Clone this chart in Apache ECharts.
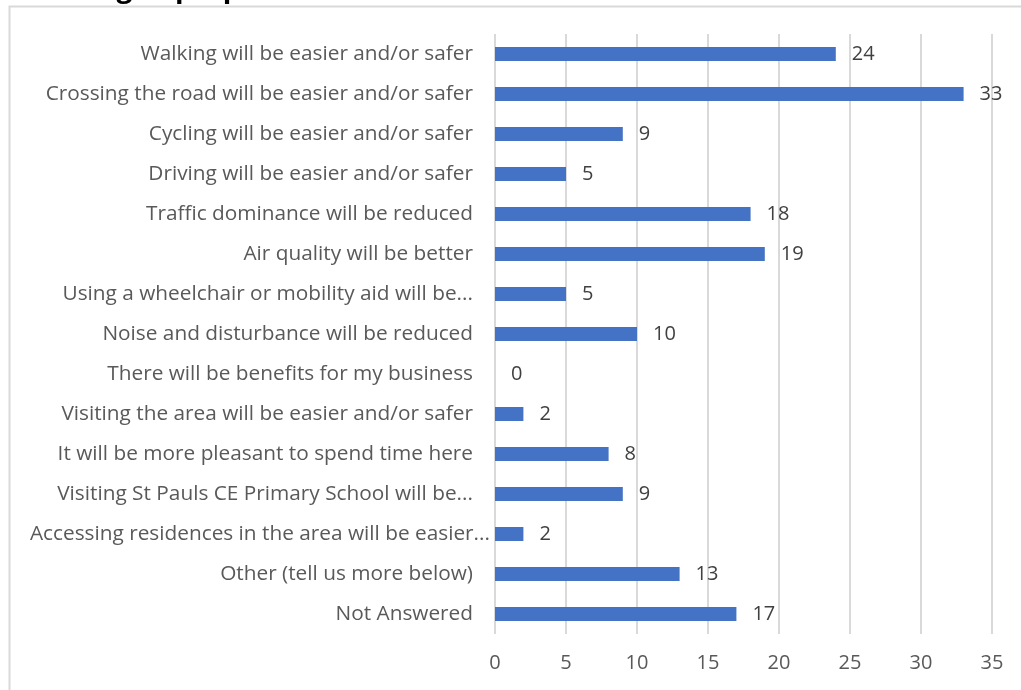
<!DOCTYPE html>
<html>
<head>
<meta charset="utf-8">
<script src="https://cdn.jsdelivr.net/npm/echarts@6/dist/echarts.min.js"></script>
<style>
html,body{margin:0;padding:0;background:#fff;}
#chart{width:1021px;height:690px;}
</style>
</head>
<body>
<div id="chart"></div>
<script>
const titleText = "Rating of proposals";
const categories = [
  "Walking will be easier and/or safer",
  "Crossing the road will be easier and/or safer",
  "Cycling will be easier and/or safer",
  "Driving will be easier and/or safer",
  "Traffic dominance will be reduced",
  "Air quality will be better",
  "Using a wheelchair or mobility aid will be...",
  "Noise and disturbance will be reduced",
  "There will be benefits for my business",
  "Visiting the area will be easier and/or safer",
  "It will be more pleasant to spend time here",
  "Visiting St Pauls CE Primary School will be...",
  "Accessing residences in the area will be easier...",
  "Other (tell us more below)",
  "Not Answered"
];
const values = [24, 33, 9, 5, 18, 19, 5, 10, 0, 2, 8, 9, 2, 13, 17];
const axisMin = 0, axisMax = 35, axisStep = 5;

const FONT = "Open Sans";
const yData = categories.map(function (c) {
  if (c.indexOf('Accessing') === 0) {
    return {value: c, textStyle: {padding: [0, -17, 0, 0]}};
  }
  return c;
});
const chart = echarts.init(document.getElementById('chart'), null, {renderer:'canvas'});
chart.setOption({
  animation: false,
  backgroundColor: '#ffffff',
  graphic: [
    {type:'rect', left:7, top:4, shape:{width:1100, height:800},
     style:{fill:'none', stroke:'#d9d9d9', lineWidth:2}, z:-10},
    {type:'text', x:42, y:-25,
     style:{text:titleText, font:'bold 28px ' + FONT, fill:'#000'}, z:-20}
  ],
  grid: {left:495, right:29, top:34, bottom:56, containLabel:false},
  xAxis: {
    type:'value', min:axisMin, max:axisMax, interval:axisStep,
    axisLine:{show:false}, axisTick:{show:false},
    splitLine:{show:true, lineStyle:{color:'#d9d9d9', width:2}},
    axisLabel:{color:'#595959', fontFamily:FONT, fontSize:20, margin:19}
  },
  yAxis: {
    type:'category', data:yData, inverse:true,
    axisLine:{show:false}, axisTick:{show:false},
    axisLabel:{color:'#595959', fontFamily:FONT, fontSize:20.8, margin:22, interval:0}
  },
  series: [{
    type:'bar', data:values, barWidth:14,
    itemStyle:{color:'#4472C4'},
    label:{show:true, position:'right', distance:16, color:'#404040',
           fontFamily:FONT, fontSize:20}
  }]
});
</script>
</body>
</html>
